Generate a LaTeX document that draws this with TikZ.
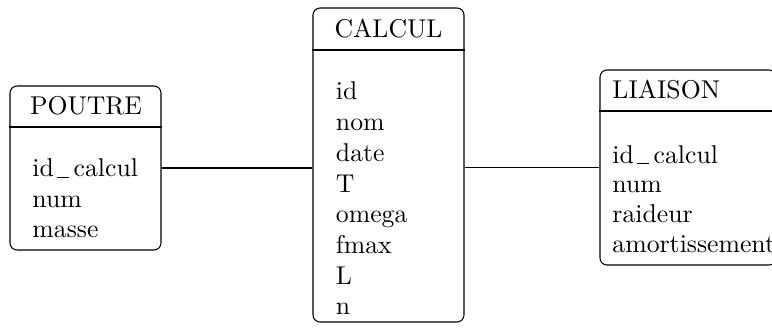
\documentclass[tikz,border=0pt]{standalone}
\usetikzlibrary{calc}
\newcommand{\usc}{\kern1.1pt\rule[-0.5pt]{5.2pt}{0.45pt}\kern2.1pt}
\begin{document}
\begin{tikzpicture}[x=0.4255pt,y=-0.4255pt,
  every node/.style={font=\fontsize{10.95pt}{13pt}\selectfont},
  tbl/.style={draw,rounded corners=3pt,inner sep=0pt,line width=0.45pt},
  ttl/.style={inner sep=0pt,anchor=base},
  item/.style={inner sep=0pt,anchor=base west},
  link/.style={draw,line width=0.45pt}]
\useasboundingbox (0,0) rectangle (772,327);
% tables
\node[tbl,minimum width=64.25pt,minimum height=69.78pt] (poutre) at (85.5,168) {};
\node[tbl,minimum width=64.25pt,minimum height=133.6pt] (calcul) at (388.5,165) {};
\node[tbl,minimum width=74.9pt,minimum height=82.97pt] (liaison) at (688,167.5) {};
% header separators
\draw[line width=0.45pt] (poutre.west |- 0,127) -- (poutre.east |- 0,127);
\draw[line width=0.45pt] (calcul.west |- 0,50) -- (calcul.east |- 0,50);
\draw[line width=0.45pt] (liaison.west |- 0,111) -- (liaison.east |- 0,111);
% titles
\node[ttl] (tp) at (86,114.5) {POUTRE};
\node[ttl] (tc) at (388.5,38) {CALCUL};
\node[ttl,anchor=base west] (tl) at (612,98.5) {LIAISON};
% items
\foreach \t [count=\i] in {id\usc calcul,num,masse}
  \node[item] (p\i) at (32,176.5+30.5*\i-30.5) {\t};
\foreach \t [count=\i] in {id,nom,date,T,omega,fmax,L,n}
  \node[item] (c\i) at (335.5,100+30.7*\i-30.7) {\t};
\foreach \t [count=\i] in {id\usc calcul,num,raideur,amortissement}
  \node[item] (l\i) at (612,163+29.8*\i-29.8) {\t};
% connectors
\draw[link] (poutre.east) -- (poutre.east -| calcul.west);
\draw[link] (liaison.west -| calcul.east) -- (liaison.west);
\end{tikzpicture}
\end{document}
